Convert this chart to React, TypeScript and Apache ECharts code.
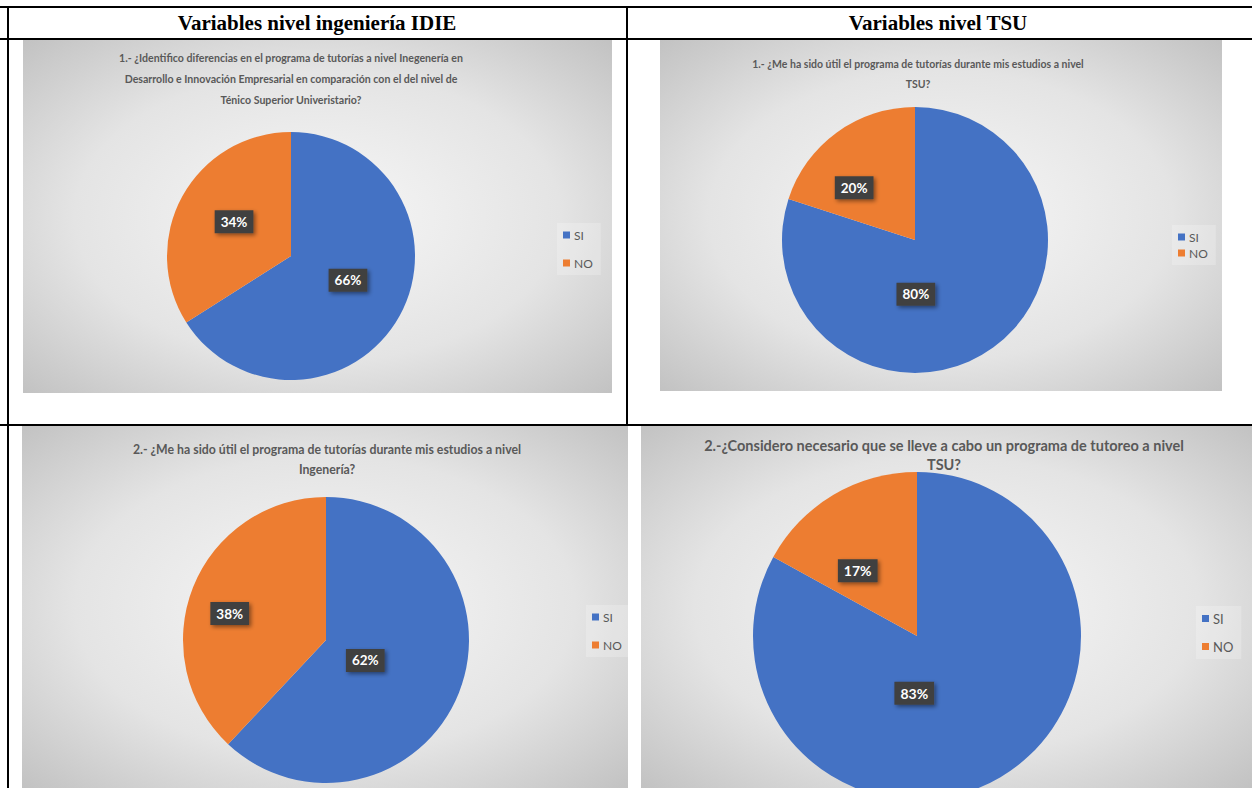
import React, { useEffect, useRef } from "react";
import * as echarts from "echarts";

const categories = ["SI", "NO"];
const idieQ1 = [66, 34];
const idieQ2 = [62, 38];
const tsuQ1 = [80, 20];
const tsuQ2 = [83, 17];

const headerLeft = "Variables nivel ingeniería IDIE";
const headerRight = "Variables nivel TSU";
const titleIdieQ1 =
  "1.- ¿Identifico diferencias en el programa de tutorías a nivel Inegenería en\nDesarrollo e Innovación Empresarial en comparación con el del nivel de\nTénico Superior Univeristario?";
const titleTsuQ1 =
  "1.- ¿Me ha sido útil el programa de tutorías durante mis estudios a nivel\nTSU?";
const titleIdieQ2 =
  "2.- ¿Me ha sido útil el programa de tutorías durante mis estudios a nivel\nIngenería?";
const titleTsuQ2 =
  "2.-¿Considero necesario que se lleve a cabo un programa de tutoreo a nivel\nTSU?";

const COLORS = ["#4472C4", "#ED7D31"];

type Panel = {
  values: number[];
  title: string;
  box: [number, number, number, number];
  center: [number, number];
  radius: number;
  titleX: number;
  titleY: number;
  titleSize: number;
  titleLH: number;
  legendX: number;
  legendY: number;
  legendGap: number;
  legendSize: number;
  labelSize: number;
  labelShift: [number, number][];
};

const panels: Panel[] = [
  {
    values: idieQ1,
    title: titleIdieQ1,
    box: [23, 40, 589, 353],
    center: [291, 256],
    radius: 124,
    titleX: 291,
    titleY: 47,
    titleSize: 10.6,
    titleLH: 21,
    legendX: 557,
    legendY: 223,
    legendGap: 16,
    legendSize: 12,
    labelSize: 13.5,
    labelShift: [
      [0, -7],
      [0, -3],
    ],
  },
  {
    values: tsuQ1,
    title: titleTsuQ1,
    box: [660, 40, 562, 351],
    center: [915, 240],
    radius: 133,
    titleX: 918,
    titleY: 54,
    titleSize: 10.5,
    titleLH: 20,
    legendX: 1172,
    legendY: 225,
    legendGap: 4,
    legendSize: 12,
    labelSize: 13.5,
    labelShift: [
      [-40, -2],
      [-20, 4],
    ],
  },
  {
    values: idieQ2,
    title: titleIdieQ2,
    box: [22, 425, 606, 363],
    center: [326, 640],
    radius: 143,
    titleX: 327,
    titleY: 439,
    titleSize: 12.3,
    titleLH: 20,
    legendX: 586,
    legendY: 605,
    legendGap: 16,
    legendSize: 12,
    labelSize: 13.5,
    labelShift: [
      [-30, -7],
      [-27, 1],
    ],
  },
  {
    values: tsuQ2,
    title: titleTsuQ2,
    box: [641, 425, 611, 363],
    center: [917, 636],
    radius: 164,
    titleX: 944,
    titleY: 436,
    titleSize: 14.5,
    titleLH: 19,
    legendX: 1196,
    legendY: 606,
    legendGap: 15,
    legendSize: 13,
    labelSize: 14,
    labelShift: [
      [-46, -16],
      [-16, 8],
    ],
  },
];

export default function App() {
  const ref = useRef<HTMLDivElement>(null);
  useEffect(() => {
    if (!ref.current) return;
    const chart = echarts.init(ref.current, null, { renderer: "svg" });

    const graphics: any[] = [];
    panels.forEach((p) => {
      graphics.push({
        type: "rect",
        shape: { x: p.box[0], y: p.box[1], width: p.box[2], height: p.box[3] },
        style: {
          fill: new echarts.graphic.RadialGradient(0.5, 0.5, 0.75, [
            { offset: 0, color: "#f7f7f7" },
            { offset: 0.55, color: "#e4e4e4" },
            { offset: 1, color: "#bdbdbd" },
          ]),
        },
        z: 0,
      });
      graphics.push({
        type: "text",
        x: p.titleX,
        y: p.titleY,
        style: {
          text: p.title,
          align: "center",
          verticalAlign: "top",
          fontFamily: "Lato",
          fontWeight: "bold",
          fontSize: p.titleSize,
          lineHeight: p.titleLH,
          fill: "#595959",
        },
        z: 5,
      });
    });
    const line = (x1: number, y1: number, x2: number, y2: number) => ({
      type: "line",
      shape: { x1, y1, x2, y2 },
      style: { stroke: "#000", lineWidth: 2 },
      z: 10,
    });
    graphics.push(line(0, 7, 1252, 7));
    graphics.push(line(0, 39, 1252, 39));
    graphics.push(line(8, 6, 8, 788));
    graphics.push(line(627, 6, 627, 425));
    graphics.push(line(0, 425, 1252, 425));
    [
      [headerLeft, 317],
      [headerRight, 938],
    ].forEach(([t, x]) => {
      graphics.push({
        type: "text",
        x: x as number,
        y: 23,
        style: {
          text: t as string,
          align: "center",
          verticalAlign: "middle",
          fontFamily: "Liberation Serif",
          fontWeight: "bold",
          fontSize: 21,
          fill: "#000",
        },
        z: 10,
      });
    });

    const series = panels.map((p) => ({
      type: "pie",
      center: [p.center[0], p.center[1]],
      radius: [0, p.radius],
      startAngle: 90,
      clockwise: true,
      silent: true,
      z: 3,
      itemStyle: { borderWidth: 0 },
      label: {
        show: true,
        position: "inside",
        formatter: "{c}%",
        color: "#fff",
        fontFamily: "Lato",
        fontWeight: "bold",
        fontSize: p.labelSize,
        backgroundColor: "#404040",
        padding: [5, 6, 4, 6],
        shadowBlur: 4,
        shadowColor: "rgba(0,0,0,0.45)",
        shadowOffsetX: 2,
        shadowOffsetY: 2,
      },
      labelLayout: (params: any) => ({
        dx: p.labelShift[params.dataIndex][0],
        dy: p.labelShift[params.dataIndex][1],
      }),
      labelLine: { show: false },
      data: categories.map((c, i) => ({
        name: c,
        value: p.values[i],
        itemStyle: { color: COLORS[i] },
      })),
    }));

    const legends = panels.map((p) => ({
      orient: "vertical",
      left: p.legendX,
      top: p.legendY,
      data: categories,
      icon: "rect",
      itemWidth: 7,
      itemHeight: 7,
      itemGap: p.legendGap,
      padding: [6, 8, 6, 6],
      backgroundColor: "rgba(255,255,255,0.22)",
      selectedMode: false,
      textStyle: {
        color: "#595959",
        fontFamily: "Lato",
        fontSize: p.legendSize,
        padding: [0, 0, 0, -1],
      },
    }));

    chart.setOption({
      animation: false,
      backgroundColor: "#ffffff",
      graphic: graphics,
      legend: legends,
      series,
    });
    return () => chart.dispose();
  }, []);

  return (
    <div
      ref={ref}
      style={{ position: "fixed", left: 0, top: 0, width: 1252, height: 788 }}
    />
  );
}
